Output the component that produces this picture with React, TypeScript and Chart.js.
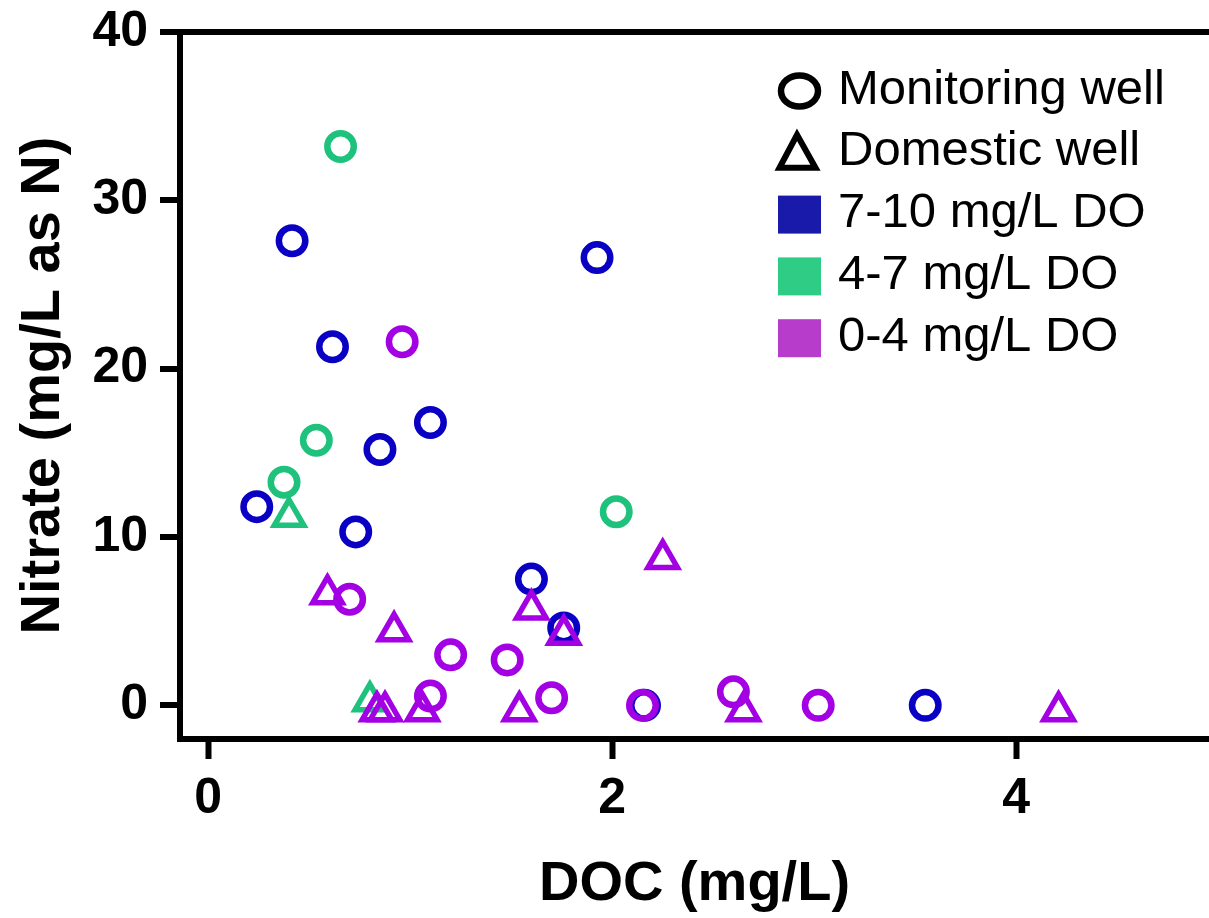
import React, { useEffect, useRef } from "react";
import { Chart, registerables } from "chart.js";

Chart.register(...registerables);

// ---- Data (DOC mg/L vs Nitrate mg/L as N) ----
const BLUE_CIRCLE_X = [0.24, 0.415, 0.615, 0.73, 0.85, 1.1, 1.925, 1.6, 1.76, 3.55, 2.16];
const BLUE_CIRCLE_Y = [11.8, 27.6, 21.3, 10.3, 15.2, 16.8, 26.6, 7.5, 4.6, 0, 0];

const GREEN_CIRCLE_X = [0.655, 0.535, 0.375, 2.02];
const GREEN_CIRCLE_Y = [33.2, 15.75, 13.25, 11.5];

const GREEN_TRIANGLE_X = [0.4, 0.8];
const GREEN_TRIANGLE_Y = [11.2, 0.25];

const PURPLE_CIRCLE_X = [0.96, 0.7, 1.2, 1.48, 1.1, 1.7, 2.15, 2.6, 3.02];
const PURPLE_CIRCLE_Y = [21.6, 6.3, 3.0, 2.7, 0.55, 0.45, 0, 0.8, 0];

const PURPLE_TRIANGLE_X = [0.59, 0.92, 1.6, 1.76, 2.25, 0.835, 0.875, 1.06, 1.54, 2.65, 4.21];
const PURPLE_TRIANGLE_Y = [6.6, 4.4, 5.7, 4.2, 8.7, -0.35, -0.35, -0.35, -0.35, -0.35, -0.35];

const X_TICKS = [0, 2, 4];
const Y_TICKS = [0, 10, 20, 30, 40];

const LEGEND_LABELS = ["Monitoring well", "Domestic well", "7-10 mg/L DO", "4-7 mg/L DO", "0-4 mg/L DO"];
const LEGEND_SYMBOLS = ["circle", "triangle", "rect", "rect", "rect"];
const LEGEND_COLORS = ["#000000", "#000000", "#1A1AAA", "#2ECC85", "#B83CCC"];

const BLUE = "#0A00C4";
const GREEN = "#1FC27C";
const PURPLE = "#A300E4";

const FONT = '"Liberation Sans", Arial, Helvetica, sans-serif';

function pts(xs: number[], ys: number[]) {
  return xs.map((x, i) => ({ x, y: ys[i] }));
}

const legendPlugin = {
  id: "customLegend",
  afterDraw(chart: any) {
    const ctx = chart.ctx as CanvasRenderingContext2D;
    ctx.save();
    ctx.font = `49px ${FONT}`;
    ctx.textBaseline = "middle";
    ctx.textAlign = "left";
    LEGEND_LABELS.forEach((label, i) => {
      const cy = 90 + i * 61.8;
      const cx = 799.5;
      const sym = LEGEND_SYMBOLS[i];
      const col = LEGEND_COLORS[i];
      if (sym === "circle") {
        ctx.beginPath();
        ctx.lineWidth = 6.5;
        ctx.strokeStyle = col;
        ctx.ellipse(cx, cy + 1, 18.5, 15.5, 0, 0, Math.PI * 2);
        ctx.stroke();
      } else if (sym === "triangle") {
        ctx.beginPath();
        ctx.lineWidth = 6;
        ctx.lineJoin = "miter";
        ctx.strokeStyle = col;
        ctx.moveTo(cx - 2.5, cy - 17);
        ctx.lineTo(cx + 16, cy + 16);
        ctx.lineTo(cx - 20, cy + 16);
        ctx.closePath();
        ctx.stroke();
      } else {
        ctx.fillStyle = col;
        ctx.fillRect(cx - 21.5, cy - 18, 43, 38);
      }
      ctx.fillStyle = "#000";
      ctx.fillText(label, 838, cy);
    });
    ctx.restore();
  },
};

export default function App() {
  const canvasRef = useRef<HTMLCanvasElement | null>(null);

  useEffect(() => {
    document.body.style.margin = "0";
    const canvas = canvasRef.current;
    if (!canvas) return;

    const circle = { pointStyle: "circle", pointRadius: 13.25, pointBorderWidth: 6.5 };
    const tri = { pointStyle: "triangle", pointRadius: 17, pointBorderWidth: 5.5 };

    const chart = new Chart(canvas, {
      type: "scatter",
      data: {
        datasets: [
          { label: "0-4 monitoring", data: pts(PURPLE_CIRCLE_X, PURPLE_CIRCLE_Y), borderColor: PURPLE, backgroundColor: "rgba(0,0,0,0)", ...circle },
          { label: "0-4 domestic", data: pts(PURPLE_TRIANGLE_X, PURPLE_TRIANGLE_Y), borderColor: PURPLE, backgroundColor: "rgba(0,0,0,0)", ...tri },
          { label: "4-7 monitoring", data: pts(GREEN_CIRCLE_X, GREEN_CIRCLE_Y), borderColor: GREEN, backgroundColor: "rgba(0,0,0,0)", ...circle },
          { label: "4-7 domestic", data: pts(GREEN_TRIANGLE_X, GREEN_TRIANGLE_Y), borderColor: GREEN, backgroundColor: "rgba(0,0,0,0)", ...tri },
          { label: "7-10 monitoring", data: pts(BLUE_CIRCLE_X, BLUE_CIRCLE_Y), borderColor: BLUE, backgroundColor: "rgba(0,0,0,0)", ...circle },
        ] as any,
      },
      options: {
        animation: false,
        responsive: false,
        devicePixelRatio: 1,
        layout: { autoPadding: false, padding: { top: 32, right: 0, left: 0, bottom: 0 } },
        plugins: {
          legend: { display: false },
          tooltip: { enabled: false },
        },
        scales: {
          x: {
            type: "linear",
            min: -0.14,
            max: 4.955,
            afterBuildTicks: (scale: any) => {
              scale.ticks = X_TICKS.map((v) => ({ value: v }));
            },
            afterFit: (scale: any) => {
              scale.height = 179;
              scale.paddingLeft = 0;
              scale.paddingRight = 0;
            },
            border: { display: true, color: "#000", width: 6 },
            grid: {
              drawOnChartArea: false,
              color: "rgba(0,0,0,0)",
              tickColor: "#000",
              tickLength: 20,
              tickWidth: 6,
            },
            ticks: {
              color: "#000",
              padding: 10,
              font: { family: FONT, size: 50, weight: "bold" },
              maxRotation: 0,
              callback: (v: any) => String(v),
            },
            title: {
              display: true,
              text: "DOC (mg/L)",
              color: "#000",
              font: { family: FONT, size: 56, weight: "bold" },
              padding: { top: 0, bottom: 0 },
            },
          },
          y: {
            type: "linear",
            min: -2,
            max: 40,
            afterBuildTicks: (scale: any) => {
              scale.ticks = Y_TICKS.map((v) => ({ value: v }));
            },
            afterFit: (scale: any) => {
              scale.width = 180;
              scale.paddingTop = 0;
              scale.paddingBottom = 0;
            },
            border: { display: true, color: "#000", width: 6 },
            grid: {
              drawOnChartArea: true,
              color: (c: any) => (c.tick && c.tick.value === 40 ? "#000" : "rgba(0,0,0,0)"),
              lineWidth: 6,
              tickColor: "#000",
              tickLength: 20,
              tickWidth: 6,
            },
            ticks: {
              color: "#000",
              padding: 12,
              font: { family: FONT, size: 50, weight: "bold" },
              callback: (v: any) => String(v),
            },
            title: {
              display: true,
              text: "Nitrate (mg/L as N)",
              color: "#000",
              font: { family: FONT, size: 56, weight: "bold" },
              padding: { top: 10, bottom: 0 },
            },
          },
        },
      } as any,
      plugins: [legendPlugin],
    });

    return () => chart.destroy();
  }, []);

  return (
    <div style={{ width: 1209, height: 918 }}>
      <canvas ref={canvasRef} width={1209} height={918} style={{ display: "block" }} />
    </div>
  );
}
